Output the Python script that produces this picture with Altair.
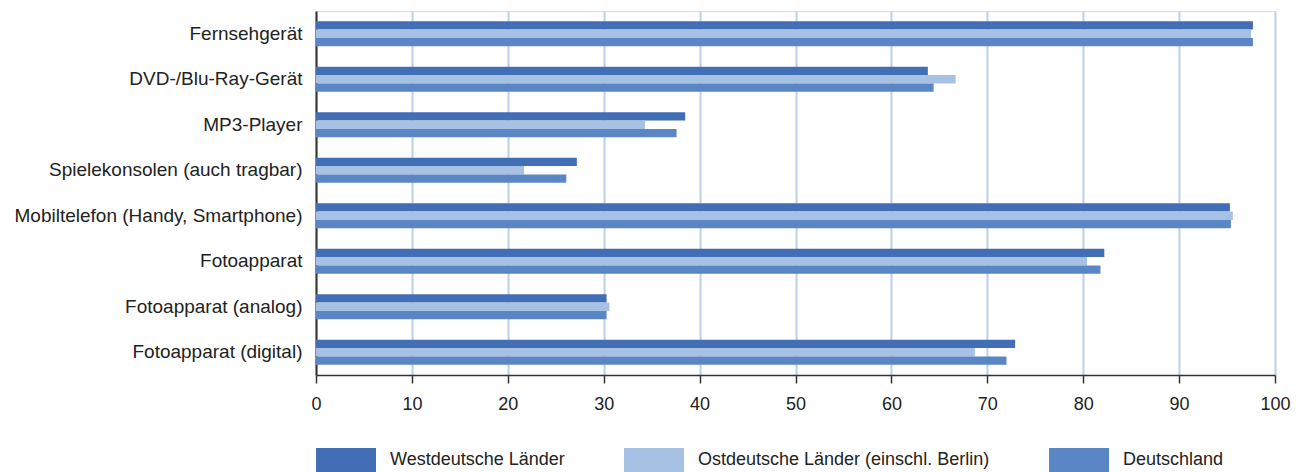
import altair as alt
import pandas as pd

categories = [
    "Fernsehgerät",
    "DVD-/Blu-Ray-Gerät",
    "MP3-Player",
    "Spielekonsolen (auch tragbar)",
    "Mobiltelefon (Handy, Smartphone)",
    "Fotoapparat",
    "Fotoapparat (analog)",
    "Fotoapparat (digital)",
]
series = ["Westdeutsche Länder", "Ostdeutsche Länder (einschl. Berlin)", "Deutschland"]
west = [97.7, 63.8, 38.5, 27.2, 95.3, 82.2, 30.3, 72.9]
ost = [97.5, 66.7, 34.3, 21.7, 95.6, 80.4, 30.6, 68.7]
de = [97.7, 64.4, 37.6, 26.1, 95.4, 81.8, 30.3, 72.0]
colors = ["#416EB4", "#A7C1E4", "#5B86C5"]
x_ticks = [0, 10, 20, 30, 40, 50, 60, 70, 80, 90, 100]

rows = []
for si, (name, vals) in enumerate(zip(series, [west, ost, de])):
    for c, v in zip(categories, vals):
        rows.append({"Kategorie": c, "Reihe": name, "order": si, "Wert": v})
df = pd.DataFrame(rows)

FONT = "Liberation Sans"

chart = alt.Chart(df).mark_bar().encode(
    y=alt.Y(
        "Kategorie:N",
        sort=categories,
        scale=alt.Scale(paddingInner=0.45, paddingOuter=0.225),
        axis=alt.Axis(
            title=None, ticks=False, labelFontSize=19, labelFont=FONT,
            labelColor="#222222", labelPadding=14, labelLimit=0,
            domainColor="#333333", domainWidth=2, grid=False,
        ),
    ),
    x=alt.X(
        "Wert:Q",
        scale=alt.Scale(domain=[0, 100], nice=False),
        axis=alt.Axis(
            title=None, values=x_ticks, labelFontSize=18, labelFont=FONT,
            labelColor="#222222", labelPadding=12, labelFlush=False,
            tickSize=8, tickColor="#333333", tickWidth=1.5,
            domainColor="#333333", domainWidth=1.5,
            grid=True, gridColor="#BCD0EA", gridWidth=2,
        ),
    ),
    yOffset=alt.YOffset("order:O", scale=alt.Scale(paddingInner=0, paddingOuter=0)),
    color=alt.Color(
        "Reihe:N",
        sort=series,
        scale=alt.Scale(domain=series, range=colors),
        legend=alt.Legend(
            title=None, orient="none", legendX=0, legendY=419,
            direction="horizontal", columns=3,
            symbolType="M-1,-0.4H1V0.4H-1Z", symbolSize=3600,
            symbolStrokeWidth=0, symbolOpacity=1,
            labelFontSize=18, labelFont=FONT, labelColor="#222222",
            labelOffset=14, columnPadding=59, labelLimit=0,
        ),
    ),
).properties(
    width=959,
    height=364,
    autosize=alt.AutoSizeParams(type="none"),
    padding={"left": 308, "top": 3, "right": 16, "bottom": 100},
).configure_view(stroke=None).configure(background="white")

chart.save("out.html", embed_options={"renderer": "svg", "actions": False})
